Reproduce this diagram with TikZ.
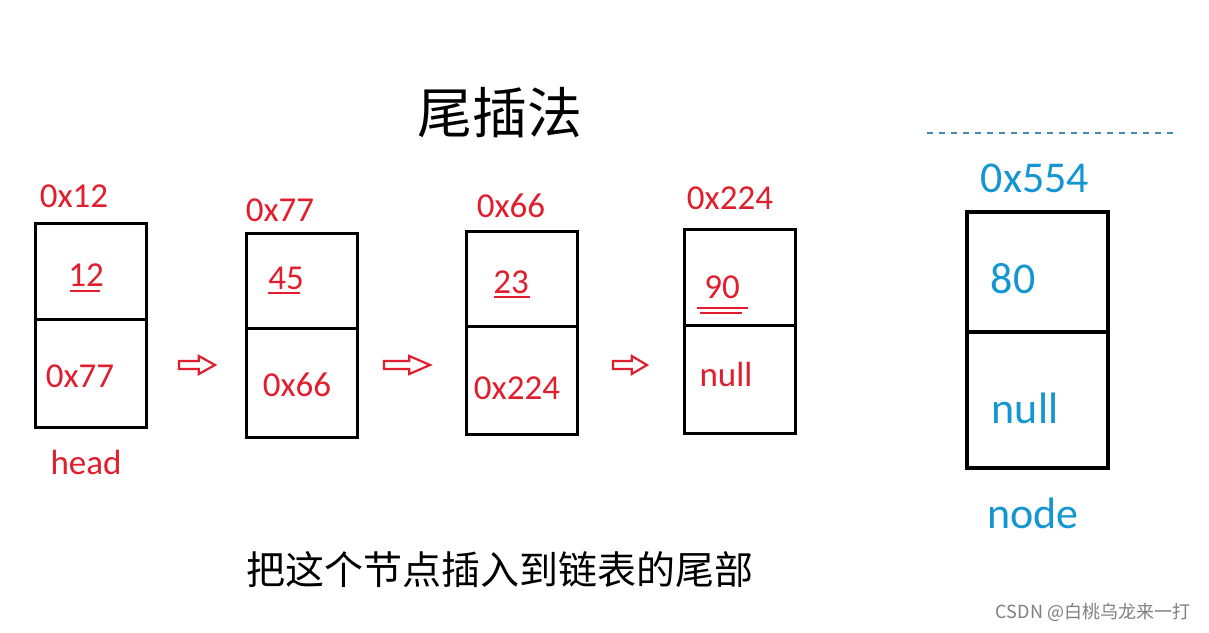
\documentclass[tikz,border=0pt]{standalone}
\usepackage{fontspec}
\setmainfont{Carlito}
\newfontfamily\cjk{Noto Sans CJK SC}
\definecolor{rd}{RGB}{225,30,45}
\definecolor{bl}{RGB}{20,150,210}
\begin{document}
\begin{tikzpicture}[x=0.5pt,y=-0.5pt,
  box/.style={draw=black,line width=1.5pt},
  rt/.style={text=rd,font=\fontsize{17.5}{17.5}\selectfont,inner sep=0},
  bt/.style={text=bl,font=\fontsize{22}{22}\selectfont,inner sep=0},
  harrow/.style={draw=rd,line width=1.1pt,fill=white}]
\useasboundingbox (0,0) rectangle (1209,632);
\fill[white] (0,0) rectangle (1209,632);
\node[font=\cjk\fontsize{27.5}{27.5}\selectfont,inner sep=0] (title) at (500,113) {尾插法};
% boxes
\draw[box] (35,223) rectangle (146,427); \draw[box] (35,319) -- (146,319);
\draw[box] (246,233) rectangle (357,437); \draw[box] (246,328) -- (357,328);
\draw[box] (466,231) rectangle (577,434); \draw[box] (466,326) -- (577,326);
\draw[box] (684,229) rectangle (795,433); \draw[box] (684,325) -- (795,325);
\draw[box,line width=1.8pt] (967,212) rectangle (1108,468); \draw[box,line width=1.8pt] (967,332) -- (1108,332);
% texts
\node[rt] (a1) at (74,196) {0x12};
\node[rt] (v1) at (86,275) {12};
\draw[rd,line width=0.8pt] (70,291) -- (100,291);
\node[rt] (p1) at (80,376) {0x77};
\node[rt] (hd) at (86,462) {head};
\node[rt] (a2) at (280,210) {0x77};
\node[rt] (v2) at (286,278) {45};
\draw[rd,line width=0.8pt] (268,293) -- (300,293);
\node[rt] (p2) at (297,385) {0x66};
\node[rt] (a3) at (511,206) {0x66};
\node[rt] (v3) at (511,282) {23};
\draw[rd,line width=0.8pt] (494,297) -- (530,297);
\node[rt] (p3) at (517,388) {0x224};
\node[rt] (a4) at (730,198) {0x224};
\node[rt] (v4) at (722,287) {90};
\draw[rd,line width=1pt] (697,308) -- (748,308);
\draw[rd,line width=1pt] (700,313) -- (742,313);
\node[rt] (p4) at (726,374) {null};
\node[bt] (a5) at (1035,178) {0x554};
\node[bt] (v5) at (1013,279) {80};
\node[bt] (p5) at (1025,408) {null};
\node[bt] (nd) at (1033,513) {node};
\draw[bl!60!gray,dashed,line width=0.6pt] (927,133) -- (1178,133);
% hollow arrows
\foreach \cx/\w in {197/36,407/46,630/34}{
  \draw[harrow] ({\cx-\w/2},{365-4}) -- ({\cx+\w*0.05},{365-4}) -- ({\cx+\w*0.05},{365-9}) -- ({\cx+\w/2},365) -- ({\cx+\w*0.05},{365+9}) -- ({\cx+\w*0.05},{365+4}) -- ({\cx-\w/2},{365+4}) -- cycle;
}
\node[font=\cjk\fontsize{19.5}{19.5}\selectfont,inner sep=0] (bottom) at (500,570) {把这个节点插入到链表的尾部};
\node[text=gray,font=\cjk\fontsize{9}{9}\selectfont,inner sep=0] (wm) at (1093,612) {CSDN @白桃乌龙来一打};
\end{tikzpicture}
\end{document}
